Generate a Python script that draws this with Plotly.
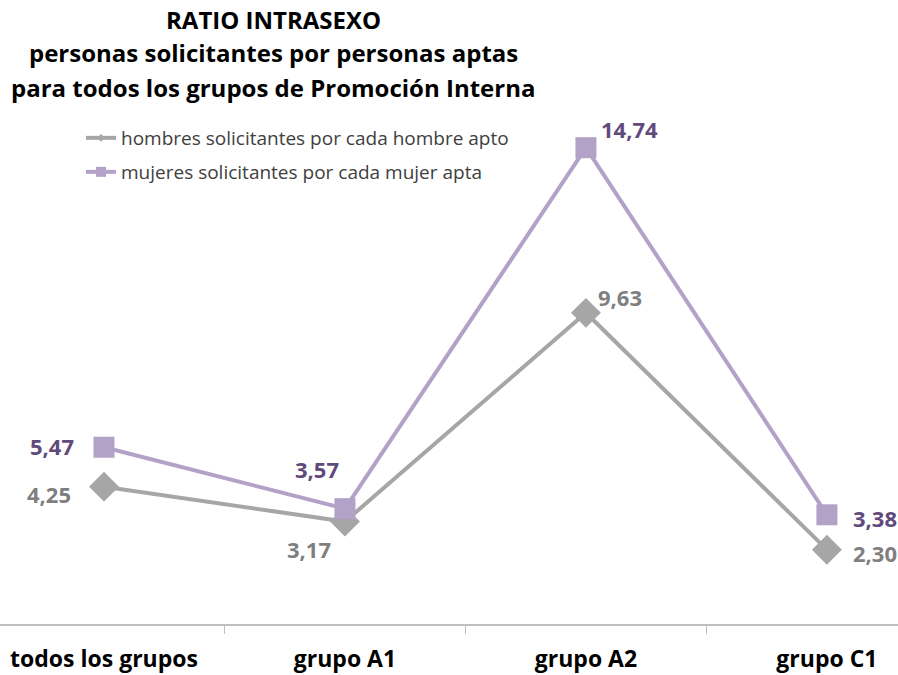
import plotly.graph_objects as go

categories = ["todos los grupos", "grupo A1", "grupo A2", "grupo C1"]
hombres = [4.25, 3.17, 9.63, 2.30]
mujeres = [5.47, 3.57, 14.74, 3.38]

hombres_name = "hombres solicitantes por cada hombre apto"
mujeres_name = "mujeres solicitantes por cada mujer apta"
title_lines = [
    "RATIO INTRASEXO",
    "personas solicitantes por personas aptas",
    "para todos los grupos de Promoción Interna",
]

GRAY = "#a6a6a6"
PURPLE = "#b3a2c7"
GRAY_TXT = "#7f7f7f"
PURPLE_TXT = "#604a7b"
FONT = "'Open Sans', Calibri, sans-serif"

W, H = 898, 675
M_T, M_B = 107, 51
PLOT_H = H - M_T - M_B

# label placement per point: (xanchor, xshift, yshift)
hombres_lbl = [("right", -31, -7), ("right", -12, -27), ("left", 10, 16), ("left", 24, -3)]
mujeres_lbl = [("right", -28, 1), ("right", -4, 40), ("left", 13, 19), ("left", 24, -3)]


def fmt(v):
    return f"{v:.2f}".replace(".", ",")


def paper_y(px):
    return (H - M_B - px) / PLOT_H


fig = go.Figure()
fig.add_trace(go.Scatter(
    x=categories, y=hombres, name=hombres_name, mode="lines+markers",
    line=dict(color=GRAY, width=4),
    marker=dict(symbol="diamond", size=23, color=GRAY),
    showlegend=False,
))
fig.add_trace(go.Scatter(
    x=categories, y=mujeres, name=mujeres_name, mode="lines+markers",
    line=dict(color=PURPLE, width=4),
    marker=dict(symbol="square", size=21, color=PURPLE),
    showlegend=False,
))

# legend keys (smaller markers than on the chart)
fig.add_trace(go.Scatter(
    x=[None], y=[None], name=hombres_name, mode="lines+markers",
    line=dict(color=GRAY, width=4),
    marker=dict(symbol="diamond", size=6, color=GRAY),
    legend="legend",
))
fig.add_trace(go.Scatter(
    x=[None], y=[None], name=mujeres_name, mode="lines+markers",
    line=dict(color=PURPLE, width=4),
    marker=dict(symbol="square", size=10, color=PURPLE),
    legend="legend2",
))

annotations = []
for line, ypx in zip(title_lines, [20, 53, 87]):
    annotations.append(dict(
        text=f"<b>{line}</b>", x=273 / W, xref="paper", xanchor="center",
        y=paper_y(ypx), yref="paper", yanchor="middle", showarrow=False,
        font=dict(family=FONT, size=24, color="#000000"),
    ))

for vals, lbls, color in [(hombres, hombres_lbl, GRAY_TXT), (mujeres, mujeres_lbl, PURPLE_TXT)]:
    for cat, v, (xa, xs, ys) in zip(categories, vals, lbls):
        annotations.append(dict(
            text=f"<b>{fmt(v)}</b>", x=cat, y=v, xref="x", yref="y",
            xanchor=xa, yanchor="middle", xshift=xs, yshift=ys, showarrow=False,
            font=dict(family=FONT, size=22, color=color),
        ))

legend_style = dict(
    x=81 / W, xanchor="left", yanchor="middle",
    font=dict(family=FONT, size=19, color="#404040"),
    bgcolor="rgba(0,0,0,0)",
)

fig.update_layout(
    width=W, height=H,
    margin=dict(l=0, r=0, t=M_T, b=M_B),
    paper_bgcolor="white", plot_bgcolor="white",
    showlegend=True,
    legend=dict(y=paper_y(138), **legend_style),
    legend2=dict(y=paper_y(172), **legend_style),
    annotations=annotations,
    xaxis=dict(
        type="category", range=[-0.4315, 3.295],
        showgrid=False, showline=True, linecolor="#bfbfbf", linewidth=2,
        ticks="outside", tickson="boundaries", ticklen=8, tickcolor="#bfbfbf",
        tickfont=dict(family=FONT, size=23, color="#000000", weight="bold"),
        ticklabelstandoff=13,
        zeroline=False,
    ),
    yaxis=dict(
        range=[0, 16], showgrid=False, showticklabels=False,
        showline=False, zeroline=False, ticks="",
    ),
)

fig.write_html("out.html")
